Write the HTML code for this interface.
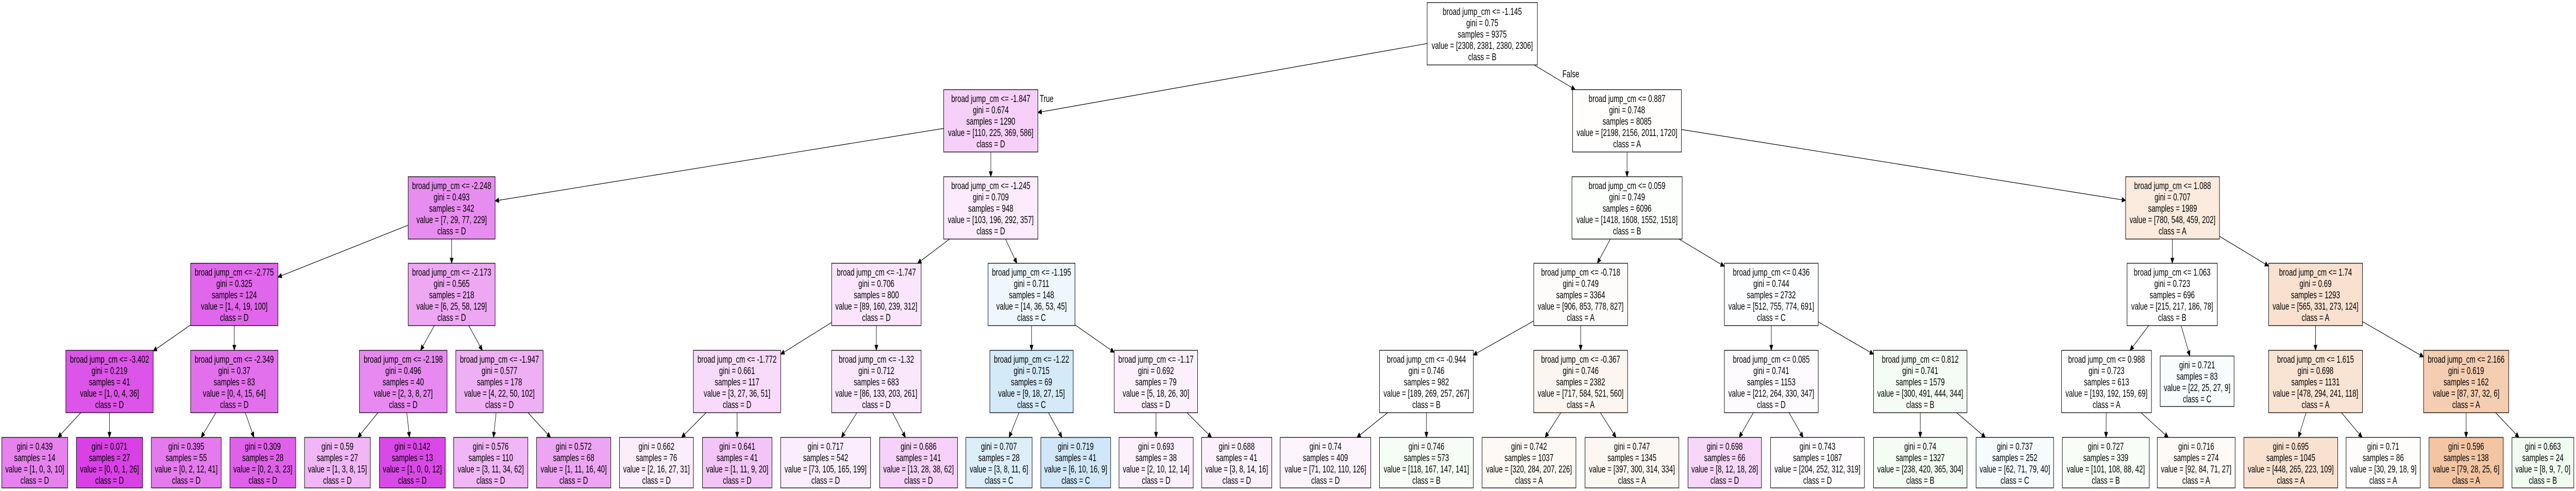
<!DOCTYPE html>
<html><head><meta charset="utf-8"><style>
html,body{margin:0;padding:0;background:#fff;overflow:hidden;width:100%;height:100%;}
svg{display:block;width:100vw;height:100vh;}
text{font-family:"Liberation Sans",Arial,sans-serif;font-size:19px;fill:#000;text-anchor:middle;}
rect{stroke:#000;stroke-width:1.3;}
</style></head><body>
<svg id="s" xmlns="http://www.w3.org/2000/svg" viewBox="0 0 7081 953" preserveAspectRatio="none">
<rect x="0" y="0" width="7081" height="953" fill="#fff" style="stroke:none"/>
<g id="edges"></g>
<g id="nodes">
<g id="root"><rect x="3923" y="5" width="303" height="121" fill="#ffffff"/><text y="29"><tspan x="4074.5">broad jump_cm &lt;= -1.145</tspan><tspan x="4074.5" dy="22">gini = 0.75</tspan><tspan x="4074.5" dy="22">samples = 9375</tspan><tspan x="4074.5" dy="22">value = [2308, 2381, 2380, 2306]</tspan><tspan x="4074.5" dy="22">class = B</tspan></text></g>
<g id="n1"><rect x="2594" y="174" width="259" height="121" fill="#f6d0f9"/><text y="198"><tspan x="2723.5">broad jump_cm &lt;= -1.847</tspan><tspan x="2723.5" dy="22">gini = 0.674</tspan><tspan x="2723.5" dy="22">samples = 1290</tspan><tspan x="2723.5" dy="22">value = [110, 225, 369, 586]</tspan><tspan x="2723.5" dy="22">class = D</tspan></text></g>
<g id="n2"><rect x="4323" y="174" width="299" height="121" fill="#fffefd"/><text y="198"><tspan x="4472.5">broad jump_cm &lt;= 0.887</tspan><tspan x="4472.5" dy="22">gini = 0.748</tspan><tspan x="4472.5" dy="22">samples = 8085</tspan><tspan x="4472.5" dy="22">value = [2198, 2156, 2011, 1720]</tspan><tspan x="4472.5" dy="22">class = A</tspan></text></g>
<g id="n3"><rect x="1122" y="343" width="239" height="121" fill="#e88df0"/><text y="367"><tspan x="1241.5">broad jump_cm &lt;= -2.248</tspan><tspan x="1241.5" dy="22">gini = 0.493</tspan><tspan x="1241.5" dy="22">samples = 342</tspan><tspan x="1241.5" dy="22">value = [7, 29, 77, 229]</tspan><tspan x="1241.5" dy="22">class = D</tspan></text></g>
<g id="n4"><rect x="2594" y="343" width="259" height="121" fill="#fbebfc"/><text y="367"><tspan x="2723.5">broad jump_cm &lt;= -1.245</tspan><tspan x="2723.5" dy="22">gini = 0.709</tspan><tspan x="2723.5" dy="22">samples = 948</tspan><tspan x="2723.5" dy="22">value = [103, 196, 292, 357]</tspan><tspan x="2723.5" dy="22">class = D</tspan></text></g>
<g id="n5"><rect x="4321" y="343" width="303" height="121" fill="#fdfffd"/><text y="367"><tspan x="4472.5">broad jump_cm &lt;= 0.059</tspan><tspan x="4472.5" dy="22">gini = 0.749</tspan><tspan x="4472.5" dy="22">samples = 6096</tspan><tspan x="4472.5" dy="22">value = [1418, 1608, 1552, 1518]</tspan><tspan x="4472.5" dy="22">class = B</tspan></text></g>
<g id="n6"><rect x="5843" y="343" width="258" height="121" fill="#fbebdf"/><text y="367"><tspan x="5972">broad jump_cm &lt;= 1.088</tspan><tspan x="5972" dy="22">gini = 0.707</tspan><tspan x="5972" dy="22">samples = 1989</tspan><tspan x="5972" dy="22">value = [780, 548, 459, 202]</tspan><tspan x="5972" dy="22">class = A</tspan></text></g>
<g id="n7"><rect x="524" y="511" width="240" height="121" fill="#e066eb"/><text y="535"><tspan x="644">broad jump_cm &lt;= -2.775</tspan><tspan x="644" dy="22">gini = 0.325</tspan><tspan x="644" dy="22">samples = 124</tspan><tspan x="644" dy="22">value = [1, 4, 19, 100]</tspan><tspan x="644" dy="22">class = D</tspan></text></g>
<g id="n8"><rect x="1122" y="511" width="239" height="121" fill="#eda7f3"/><text y="535"><tspan x="1241.5">broad jump_cm &lt;= -2.173</tspan><tspan x="1241.5" dy="22">gini = 0.565</tspan><tspan x="1241.5" dy="22">samples = 218</tspan><tspan x="1241.5" dy="22">value = [6, 25, 58, 129]</tspan><tspan x="1241.5" dy="22">class = D</tspan></text></g>
<g id="n9"><rect x="2286" y="511" width="246" height="121" fill="#fae5fc"/><text y="535"><tspan x="2409">broad jump_cm &lt;= -1.747</tspan><tspan x="2409" dy="22">gini = 0.706</tspan><tspan x="2409" dy="22">samples = 800</tspan><tspan x="2409" dy="22">value = [89, 160, 239, 312]</tspan><tspan x="2409" dy="22">class = D</tspan></text></g>
<g id="n10"><rect x="2716" y="511" width="239" height="121" fill="#eef7fd"/><text y="535"><tspan x="2835.5">broad jump_cm &lt;= -1.195</tspan><tspan x="2835.5" dy="22">gini = 0.711</tspan><tspan x="2835.5" dy="22">samples = 148</tspan><tspan x="2835.5" dy="22">value = [14, 36, 53, 45]</tspan><tspan x="2835.5" dy="22">class = C</tspan></text></g>
<g id="n11"><rect x="4216" y="511" width="258" height="121" fill="#fefcfb"/><text y="535"><tspan x="4345">broad jump_cm &lt;= -0.718</tspan><tspan x="4345" dy="22">gini = 0.749</tspan><tspan x="4345" dy="22">samples = 3364</tspan><tspan x="4345" dy="22">value = [906, 853, 778, 827]</tspan><tspan x="4345" dy="22">class = A</tspan></text></g>
<g id="n12"><rect x="4740" y="511" width="258" height="121" fill="#fdfeff"/><text y="535"><tspan x="4869">broad jump_cm &lt;= 0.436</tspan><tspan x="4869" dy="22">gini = 0.744</tspan><tspan x="4869" dy="22">samples = 2732</tspan><tspan x="4869" dy="22">value = [512, 755, 774, 691]</tspan><tspan x="4869" dy="22">class = C</tspan></text></g>
<g id="n13"><rect x="5847" y="511" width="248" height="121" fill="#ffffff"/><text y="535"><tspan x="5971">broad jump_cm &lt;= 1.063</tspan><tspan x="5971" dy="22">gini = 0.723</tspan><tspan x="5971" dy="22">samples = 696</tspan><tspan x="5971" dy="22">value = [215, 217, 186, 78]</tspan><tspan x="5971" dy="22">class = B</tspan></text></g>
<g id="n14"><rect x="6236" y="511" width="258" height="121" fill="#f9e0cf"/><text y="535"><tspan x="6365">broad jump_cm &lt;= 1.74</tspan><tspan x="6365" dy="22">gini = 0.69</tspan><tspan x="6365" dy="22">samples = 1293</tspan><tspan x="6365" dy="22">value = [565, 331, 273, 124]</tspan><tspan x="6365" dy="22">class = A</tspan></text></g>
<g id="n15"><rect x="181" y="680" width="240" height="121" fill="#dc54e8"/><text y="704"><tspan x="301">broad jump_cm &lt;= -3.402</tspan><tspan x="301" dy="22">gini = 0.219</tspan><tspan x="301" dy="22">samples = 41</tspan><tspan x="301" dy="22">value = [1, 0, 4, 36]</tspan><tspan x="301" dy="22">class = D</tspan></text></g>
<g id="n16"><rect x="524" y="680" width="240" height="121" fill="#e270ec"/><text y="704"><tspan x="644">broad jump_cm &lt;= -2.349</tspan><tspan x="644" dy="22">gini = 0.37</tspan><tspan x="644" dy="22">samples = 83</tspan><tspan x="644" dy="22">value = [0, 4, 15, 64]</tspan><tspan x="644" dy="22">class = D</tspan></text></g>
<g id="n17"><rect x="988" y="680" width="241" height="121" fill="#e789f0"/><text y="704"><tspan x="1108.5">broad jump_cm &lt;= -2.198</tspan><tspan x="1108.5" dy="22">gini = 0.496</tspan><tspan x="1108.5" dy="22">samples = 40</tspan><tspan x="1108.5" dy="22">value = [2, 3, 8, 27]</tspan><tspan x="1108.5" dy="22">class = D</tspan></text></g>
<g id="n18"><rect x="1253" y="680" width="240" height="121" fill="#efaff4"/><text y="704"><tspan x="1373">broad jump_cm &lt;= -1.947</tspan><tspan x="1373" dy="22">gini = 0.577</tspan><tspan x="1373" dy="22">samples = 178</tspan><tspan x="1373" dy="22">value = [4, 22, 50, 102]</tspan><tspan x="1373" dy="22">class = D</tspan></text></g>
<g id="n19"><rect x="1906" y="680" width="240" height="121" fill="#f8dafa"/><text y="704"><tspan x="2026">broad jump_cm &lt;= -1.772</tspan><tspan x="2026" dy="22">gini = 0.661</tspan><tspan x="2026" dy="22">samples = 117</tspan><tspan x="2026" dy="22">value = [3, 27, 36, 51]</tspan><tspan x="2026" dy="22">class = D</tspan></text></g>
<g id="n20"><rect x="2286" y="680" width="246" height="121" fill="#fae7fc"/><text y="704"><tspan x="2409">broad jump_cm &lt;= -1.32</tspan><tspan x="2409" dy="22">gini = 0.712</tspan><tspan x="2409" dy="22">samples = 683</tspan><tspan x="2409" dy="22">value = [86, 133, 203, 261]</tspan><tspan x="2409" dy="22">class = D</tspan></text></g>
<g id="n21"><rect x="2721" y="680" width="229" height="121" fill="#d5eaf9"/><text y="704"><tspan x="2835.5">broad jump_cm &lt;= -1.22</tspan><tspan x="2835.5" dy="22">gini = 0.715</tspan><tspan x="2835.5" dy="22">samples = 69</tspan><tspan x="2835.5" dy="22">value = [9, 18, 27, 15]</tspan><tspan x="2835.5" dy="22">class = C</tspan></text></g>
<g id="n22"><rect x="3063" y="680" width="229" height="121" fill="#fcf0fd"/><text y="704"><tspan x="3177.5">broad jump_cm &lt;= -1.17</tspan><tspan x="3177.5" dy="22">gini = 0.692</tspan><tspan x="3177.5" dy="22">samples = 79</tspan><tspan x="3177.5" dy="22">value = [5, 18, 26, 30]</tspan><tspan x="3177.5" dy="22">class = D</tspan></text></g>
<g id="n23"><rect x="3792" y="680" width="258" height="121" fill="#ffffff"/><text y="704"><tspan x="3921">broad jump_cm &lt;= -0.944</tspan><tspan x="3921" dy="22">gini = 0.746</tspan><tspan x="3921" dy="22">samples = 982</tspan><tspan x="3921" dy="22">value = [189, 269, 257, 267]</tspan><tspan x="3921" dy="22">class = B</tspan></text></g>
<g id="n24"><rect x="4216" y="680" width="258" height="121" fill="#fdf6f0"/><text y="704"><tspan x="4345">broad jump_cm &lt;= -0.367</tspan><tspan x="4345" dy="22">gini = 0.746</tspan><tspan x="4345" dy="22">samples = 2382</tspan><tspan x="4345" dy="22">value = [717, 584, 521, 560]</tspan><tspan x="4345" dy="22">class = A</tspan></text></g>
<g id="n25"><rect x="4740" y="680" width="258" height="121" fill="#fefbfe"/><text y="704"><tspan x="4869">broad jump_cm &lt;= 0.085</tspan><tspan x="4869" dy="22">gini = 0.741</tspan><tspan x="4869" dy="22">samples = 1153</tspan><tspan x="4869" dy="22">value = [212, 264, 330, 347]</tspan><tspan x="4869" dy="22">class = D</tspan></text></g>
<g id="n26"><rect x="5150" y="680" width="257" height="121" fill="#f5fcf5"/><text y="704"><tspan x="5278.5">broad jump_cm &lt;= 0.812</tspan><tspan x="5278.5" dy="22">gini = 0.741</tspan><tspan x="5278.5" dy="22">samples = 1579</tspan><tspan x="5278.5" dy="22">value = [300, 491, 444, 344]</tspan><tspan x="5278.5" dy="22">class = B</tspan></text></g>
<g id="n27"><rect x="5667" y="680" width="247" height="121" fill="#ffffff"/><text y="704"><tspan x="5790.5">broad jump_cm &lt;= 0.988</tspan><tspan x="5790.5" dy="22">gini = 0.723</tspan><tspan x="5790.5" dy="22">samples = 613</tspan><tspan x="5790.5" dy="22">value = [193, 192, 159, 69]</tspan><tspan x="5790.5" dy="22">class = A</tspan></text></g>
<g id="n28"><rect x="5938" y="691" width="203" height="98" fill="#f8fcfe"/><text y="715"><tspan x="6039.5">gini = 0.721</tspan><tspan x="6039.5" dy="22">samples = 83</tspan><tspan x="6039.5" dy="22">value = [22, 25, 27, 9]</tspan><tspan x="6039.5" dy="22">class = C</tspan></text></g>
<g id="n29"><rect x="6236" y="680" width="258" height="121" fill="#f9e3d3"/><text y="704"><tspan x="6365">broad jump_cm &lt;= 1.615</tspan><tspan x="6365" dy="22">gini = 0.698</tspan><tspan x="6365" dy="22">samples = 1131</tspan><tspan x="6365" dy="22">value = [478, 294, 241, 118]</tspan><tspan x="6365" dy="22">class = A</tspan></text></g>
<g id="n30"><rect x="6662" y="680" width="234" height="121" fill="#f5cdb0"/><text y="704"><tspan x="6779">broad jump_cm &lt;= 2.166</tspan><tspan x="6779" dy="22">gini = 0.619</tspan><tspan x="6779" dy="22">samples = 162</tspan><tspan x="6779" dy="22">value = [87, 37, 32, 6]</tspan><tspan x="6779" dy="22">class = A</tspan></text></g>

<g id="L1"><rect x="5" y="849" width="181" height="98" fill="#e681ee"/><text y="873"><tspan x="95.5">gini = 0.439</tspan><tspan x="95.5" dy="22">samples = 14</tspan><tspan x="95.5" dy="22">value = [1, 0, 3, 10]</tspan><tspan x="95.5" dy="22">class = D</tspan></text></g>
<g id="L2"><rect x="210" y="849" width="182" height="98" fill="#d941e6"/><text y="873"><tspan x="301">gini = 0.071</tspan><tspan x="301" dy="22">samples = 27</tspan><tspan x="301" dy="22">value = [0, 0, 1, 26]</tspan><tspan x="301" dy="22">class = D</tspan></text></g>
<g id="L3"><rect x="416" y="849" width="192" height="98" fill="#e47aed"/><text y="873"><tspan x="512">gini = 0.395</tspan><tspan x="512" dy="22">samples = 55</tspan><tspan x="512" dy="22">value = [0, 2, 12, 41]</tspan><tspan x="512" dy="22">class = D</tspan></text></g>
<g id="L4"><rect x="632" y="849" width="181" height="98" fill="#df61ea"/><text y="873"><tspan x="722.5">gini = 0.309</tspan><tspan x="722.5" dy="22">samples = 28</tspan><tspan x="722.5" dy="22">value = [0, 2, 3, 23]</tspan><tspan x="722.5" dy="22">class = D</tspan></text></g>
<g id="L5"><rect x="837" y="849" width="181" height="98" fill="#f0b6f5"/><text y="873"><tspan x="927.5">gini = 0.59</tspan><tspan x="927.5" dy="22">samples = 27</tspan><tspan x="927.5" dy="22">value = [1, 3, 8, 15]</tspan><tspan x="927.5" dy="22">class = D</tspan></text></g>
<g id="L6"><rect x="1043" y="849" width="181" height="98" fill="#da49e7"/><text y="873"><tspan x="1133.5">gini = 0.142</tspan><tspan x="1133.5" dy="22">samples = 13</tspan><tspan x="1133.5" dy="22">value = [1, 0, 0, 12]</tspan><tspan x="1133.5" dy="22">class = D</tspan></text></g>
<g id="L7"><rect x="1247" y="849" width="204" height="98" fill="#f0b6f5"/><text y="873"><tspan x="1349">gini = 0.576</tspan><tspan x="1349" dy="22">samples = 110</tspan><tspan x="1349" dy="22">value = [3, 11, 34, 62]</tspan><tspan x="1349" dy="22">class = D</tspan></text></g>
<g id="L8"><rect x="1475" y="849" width="204" height="98" fill="#eda4f3"/><text y="873"><tspan x="1577">gini = 0.572</tspan><tspan x="1577" dy="22">samples = 68</tspan><tspan x="1577" dy="22">value = [1, 11, 16, 40]</tspan><tspan x="1577" dy="22">class = D</tspan></text></g>
<g id="L9"><rect x="1703" y="849" width="203" height="98" fill="#fcedfd"/><text y="873"><tspan x="1804.5">gini = 0.662</tspan><tspan x="1804.5" dy="22">samples = 76</tspan><tspan x="1804.5" dy="22">value = [2, 16, 27, 31]</tspan><tspan x="1804.5" dy="22">class = D</tspan></text></g>
<g id="L10"><rect x="1931" y="849" width="191" height="98" fill="#f3c4f7"/><text y="873"><tspan x="2026.5">gini = 0.641</tspan><tspan x="2026.5" dy="22">samples = 41</tspan><tspan x="2026.5" dy="22">value = [1, 11, 9, 20]</tspan><tspan x="2026.5" dy="22">class = D</tspan></text></g>
<g id="L11"><rect x="2146" y="849" width="247" height="98" fill="#fbedfd"/><text y="873"><tspan x="2269.5">gini = 0.717</tspan><tspan x="2269.5" dy="22">samples = 542</tspan><tspan x="2269.5" dy="22">value = [73, 105, 165, 199]</tspan><tspan x="2269.5" dy="22">class = D</tspan></text></g>
<g id="L12"><rect x="2418" y="849" width="214" height="98" fill="#f6d1f9"/><text y="873"><tspan x="2525">gini = 0.686</tspan><tspan x="2525" dy="22">samples = 141</tspan><tspan x="2525" dy="22">value = [13, 28, 38, 62]</tspan><tspan x="2525" dy="22">class = D</tspan></text></g>
<g id="L13"><rect x="2655" y="849" width="182" height="98" fill="#dceefa"/><text y="873"><tspan x="2746">gini = 0.707</tspan><tspan x="2746" dy="22">samples = 28</tspan><tspan x="2746" dy="22">value = [3, 8, 11, 6]</tspan><tspan x="2746" dy="22">class = C</tspan></text></g>
<g id="L14"><rect x="2861" y="849" width="192" height="98" fill="#cfe7f9"/><text y="873"><tspan x="2957">gini = 0.719</tspan><tspan x="2957" dy="22">samples = 41</tspan><tspan x="2957" dy="22">value = [6, 10, 16, 9]</tspan><tspan x="2957" dy="22">class = C</tspan></text></g>
<g id="L15"><rect x="3076" y="849" width="204" height="98" fill="#fcf0fd"/><text y="873"><tspan x="3178">gini = 0.693</tspan><tspan x="3178" dy="22">samples = 38</tspan><tspan x="3178" dy="22">value = [2, 10, 12, 14]</tspan><tspan x="3178" dy="22">class = D</tspan></text></g>
<g id="L16"><rect x="3303" y="849" width="193" height="98" fill="#fcf0fd"/><text y="873"><tspan x="3399.5">gini = 0.688</tspan><tspan x="3399.5" dy="22">samples = 41</tspan><tspan x="3399.5" dy="22">value = [3, 8, 14, 16]</tspan><tspan x="3399.5" dy="22">class = D</tspan></text></g>
<g id="L17"><rect x="3519" y="849" width="249" height="98" fill="#fdf4fe"/><text y="873"><tspan x="3643.5">gini = 0.74</tspan><tspan x="3643.5" dy="22">samples = 409</tspan><tspan x="3643.5" dy="22">value = [71, 102, 110, 126]</tspan><tspan x="3643.5" dy="22">class = D</tspan></text></g>
<g id="L18"><rect x="3792" y="849" width="258" height="98" fill="#f6fdf6"/><text y="873"><tspan x="3921">gini = 0.746</tspan><tspan x="3921" dy="22">samples = 573</tspan><tspan x="3921" dy="22">value = [118, 167, 147, 141]</tspan><tspan x="3921" dy="22">class = B</tspan></text></g>
<g id="L19"><rect x="4074" y="849" width="258" height="98" fill="#fef9f5"/><text y="873"><tspan x="4203">gini = 0.742</tspan><tspan x="4203" dy="22">samples = 1037</tspan><tspan x="4203" dy="22">value = [320, 284, 207, 226]</tspan><tspan x="4203" dy="22">class = A</tspan></text></g>
<g id="L20"><rect x="4357" y="849" width="258" height="98" fill="#fdf7f3"/><text y="873"><tspan x="4486">gini = 0.747</tspan><tspan x="4486" dy="22">samples = 1345</tspan><tspan x="4486" dy="22">value = [397, 300, 314, 334]</tspan><tspan x="4486" dy="22">class = A</tspan></text></g>
<g id="L21"><rect x="4640" y="849" width="202" height="98" fill="#f7d6fa"/><text y="873"><tspan x="4741">gini = 0.698</tspan><tspan x="4741" dy="22">samples = 66</tspan><tspan x="4741" dy="22">value = [8, 12, 18, 28]</tspan><tspan x="4741" dy="22">class = D</tspan></text></g>
<g id="L22"><rect x="4867" y="849" width="258" height="98" fill="#fffdff"/><text y="873"><tspan x="4996">gini = 0.743</tspan><tspan x="4996" dy="22">samples = 1087</tspan><tspan x="4996" dy="22">value = [204, 252, 312, 319]</tspan><tspan x="4996" dy="22">class = D</tspan></text></g>
<g id="L23"><rect x="5150" y="849" width="257" height="98" fill="#f4fcf4"/><text y="873"><tspan x="5278.5">gini = 0.74</tspan><tspan x="5278.5" dy="22">samples = 1327</tspan><tspan x="5278.5" dy="22">value = [238, 420, 365, 304]</tspan><tspan x="5278.5" dy="22">class = B</tspan></text></g>
<g id="L24"><rect x="5432" y="849" width="213" height="98" fill="#f6fbfe"/><text y="873"><tspan x="5538.5">gini = 0.737</tspan><tspan x="5538.5" dy="22">samples = 252</tspan><tspan x="5538.5" dy="22">value = [62, 71, 79, 40]</tspan><tspan x="5538.5" dy="22">class = C</tspan></text></g>
<g id="L25"><rect x="5669" y="849" width="239" height="98" fill="#f8fdf8"/><text y="873"><tspan x="5788.5">gini = 0.727</tspan><tspan x="5788.5" dy="22">samples = 339</tspan><tspan x="5788.5" dy="22">value = [101, 108, 88, 42]</tspan><tspan x="5788.5" dy="22">class = B</tspan></text></g>
<g id="L26"><rect x="5930" y="849" width="214" height="98" fill="#fefaf7"/><text y="873"><tspan x="6037">gini = 0.716</tspan><tspan x="6037" dy="22">samples = 274</tspan><tspan x="6037" dy="22">value = [92, 84, 71, 27]</tspan><tspan x="6037" dy="22">class = A</tspan></text></g>
<g id="L27"><rect x="6168" y="849" width="258" height="98" fill="#f9e1d0"/><text y="873"><tspan x="6297">gini = 0.695</tspan><tspan x="6297" dy="22">samples = 1045</tspan><tspan x="6297" dy="22">value = [448, 265, 223, 109]</tspan><tspan x="6297" dy="22">class = A</tspan></text></g>
<g id="L28"><rect x="6449" y="849" width="204" height="98" fill="#fffdfb"/><text y="873"><tspan x="6551">gini = 0.71</tspan><tspan x="6551" dy="22">samples = 86</tspan><tspan x="6551" dy="22">value = [30, 29, 18, 9]</tspan><tspan x="6551" dy="22">class = A</tspan></text></g>
<g id="L29"><rect x="6677" y="849" width="204" height="98" fill="#f3c5a3"/><text y="873"><tspan x="6779">gini = 0.596</tspan><tspan x="6779" dy="22">samples = 138</tspan><tspan x="6779" dy="22">value = [79, 28, 25, 6]</tspan><tspan x="6779" dy="22">class = A</tspan></text></g>
<g id="L30"><rect x="6905" y="849" width="170" height="98" fill="#f1fcf1"/><text y="873"><tspan x="6990">gini = 0.663</tspan><tspan x="6990" dy="22">samples = 24</tspan><tspan x="6990" dy="22">value = [8, 9, 7, 0]</tspan><tspan x="6990" dy="22">class = B</tspan></text></g>
</g>
<text x="2877" y="198">True</text>
<text x="4318" y="150">False</text>
</svg>
<script>
(function(){
var E=[["root","n1"],["root","n2"],["n1","n3"],["n1","n4"],["n3","n7"],["n3","n8"],["n7","n15"],["n7","n16"],["n15","L1"],["n15","L2"],["n16","L3"],["n16","L4"],["n8","n17"],["n8","n18"],["n17","L5"],["n17","L6"],["n18","L7"],["n18","L8"],["n4","n9"],["n4","n10"],["n9","n19"],["n9","n20"],["n19","L9"],["n19","L10"],["n20","L11"],["n20","L12"],["n10","n21"],["n10","n22"],["n21","L13"],["n21","L14"],["n22","L15"],["n22","L16"],["n2","n5"],["n2","n6"],["n5","n11"],["n5","n12"],["n11","n23"],["n11","n24"],["n23","L17"],["n23","L18"],["n24","L19"],["n24","L20"],["n12","n25"],["n12","n26"],["n25","L21"],["n25","L22"],["n26","L23"],["n26","L24"],["n6","n13"],["n6","n14"],["n13","n27"],["n13","n28"],["n27","L25"],["n27","L26"],["n14","n29"],["n14","n30"],["n29","L27"],["n29","L28"],["n30","L29"],["n30","L30"]];
function box(id){var r=document.querySelector('#'+id+' rect');var x=+r.getAttribute('x'),y=+r.getAttribute('y'),w=+r.getAttribute('width'),h=+r.getAttribute('height');return {x:x,y:y,w:w,h:h,cx:x+w/2,cy:y+h/2};}
function clip(b,dx,dy){var tx=dx!==0?(b.w/2)/Math.abs(dx):1e9,ty=dy!==0?(b.h/2)/Math.abs(dy):1e9;var t=Math.min(tx,ty);return [b.cx+dx*t,b.cy+dy*t];}
var g=document.getElementById('edges'),out='';
E.forEach(function(e){var a=box(e[0]),b=box(e[1]);var dx=b.cx-a.cx,dy=b.cy-a.cy;var p=clip(a,dx,dy),q=clip(b,-dx,-dy);var L=Math.hypot(q[0]-p[0],q[1]-p[1]);var ux=(q[0]-p[0])/L,uy=(q[1]-p[1])/L;var al=10,aw=4.5;var bx=q[0]-ux*al,by=q[1]-uy*al;
out+='<line x1="'+p[0]+'" y1="'+p[1]+'" x2="'+bx+'" y2="'+by+'" stroke="#000" stroke-width="1.2"/>';
out+='<polygon points="'+q[0]+','+q[1]+' '+(bx-uy*aw)+','+(by+ux*aw)+' '+(bx+uy*aw)+','+(by-ux*aw)+'" fill="#000" stroke="#000" stroke-width="1"/>';});
g.innerHTML=out;
})();
</script>
</body></html>
